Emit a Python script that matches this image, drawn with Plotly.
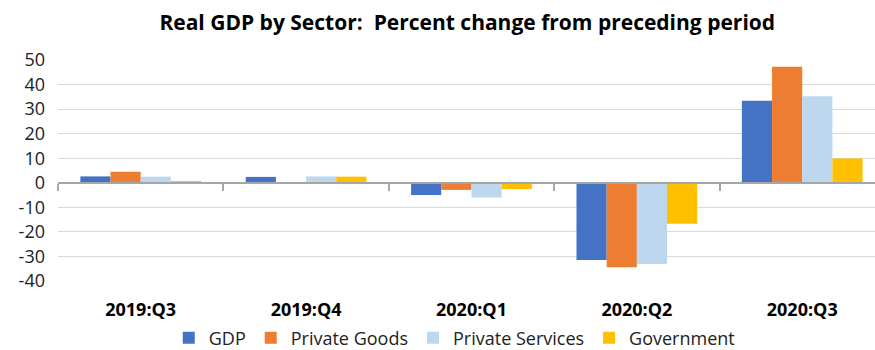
import plotly.graph_objects as go

categories = ["2019:Q3", "2019:Q4", "2020:Q1", "2020:Q2", "2020:Q3"]
gdp = [2.6, 2.4, -5.0, -31.4, 33.4]
private_goods = [4.5, 0.0, -2.9, -34.4, 47.3]
private_services = [2.5, 2.6, -6.0, -33.1, 35.2]
government = [0.6, 2.5, -2.6, -16.7, 9.9]
series_names = ["GDP", "Private Goods", "Private Services", "Government"]
colors = ["#4472C4", "#ED7D31", "#BDD7EE", "#FFC000"]
y_ticks = [50, 40, 30, 20, 10, 0, -10, -20, -30, -40]

FONT = "Open Sans"

fig = go.Figure()
for name, vals, col in zip(series_names, [gdp, private_goods, private_services, government], colors):
    fig.add_trace(go.Bar(x=categories, y=vals, name=name, marker=dict(color=col, line=dict(width=0))))

# invisible trace for the zero-line axis with boundary ticks
fig.add_trace(go.Scatter(x=categories, y=[0] * len(categories), xaxis="x2", mode="none",
                         showlegend=False, hoverinfo="skip"))

fig.update_layout(
    width=875, height=350,
    margin=dict(l=58, r=0, t=60, b=69),
    paper_bgcolor="white", plot_bgcolor="white",
    barmode="group", bargap=0.27, bargroupgap=0,
    title=dict(text="<b>Real GDP by Sector:  Percent change from preceding period</b>",
               x=0.534, xanchor="center", y=0.935, yanchor="middle",
               font=dict(family=FONT, size=21, color="#000000")),
    legend=dict(orientation="h", x=0.485, xanchor="center", yref="container", y=0.034,
                yanchor="middle",
                font=dict(family=FONT, size=18, color="#222222"), itemwidth=30,
                traceorder="normal", itemclick=False),
    xaxis=dict(type="category", range=[-0.5, 4.44], showline=False, ticks="",
               showgrid=False, tickfont=dict(family=FONT, size=18, color="#000000"),
               ticklabelstandoff=16, tickprefix="<b>", ticksuffix="</b>", automargin=False),
    xaxis2=dict(type="category", overlaying="x", anchor="free", position=40 / 90,
                range=[-0.5, 4.44], showline=True, linecolor="#A6A6A6", linewidth=1.5,
                ticks="outside", tickson="boundaries", ticklen=7, tickcolor="#A6A6A6",
                tickwidth=1.5, showticklabels=False, showgrid=False),
    yaxis=dict(range=[-40, 50], tickvals=y_ticks, ticktext=[str(v) for v in y_ticks],
               showgrid=True, gridcolor="#D9D9D9", gridwidth=1, zeroline=False,
               showline=False, ticks="", tickfont=dict(family=FONT, size=18, color="#222222"),
               ticklabelstandoff=12, automargin=False),
)

fig.write_html("out.html")
